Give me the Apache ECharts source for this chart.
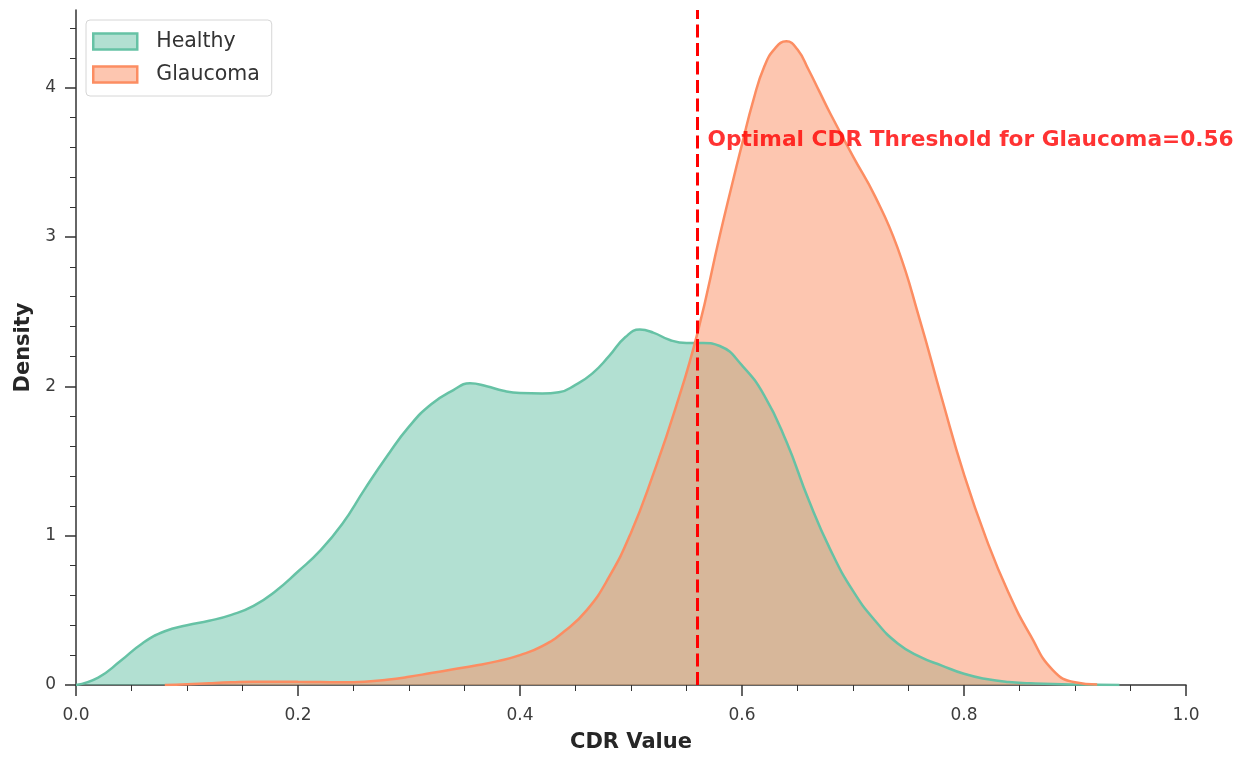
<!DOCTYPE html>
<html>
<head>
<meta charset="utf-8">
<script src="https://cdn.jsdelivr.net/npm/echarts@6/dist/echarts.min.js"></script>
<style>
  html, body { margin: 0; padding: 0; background: #ffffff; }
  #chart { width: 1247px; height: 757px; }
</style>
</head>
<body>
<div id="chart"></div>
<script>
// ---- data ----
const healthyCdr = [0.00,0.02,0.04,0.06,0.08,0.10,0.12,0.14,0.16,0.18,0.20,0.22,0.24,0.26,0.28,0.30,0.32,0.34,0.355,0.37,0.385,0.40,0.42,0.435,0.45,0.465,0.48,0.495,0.508,0.52,0.535,0.55,0.565,0.58,0.60,0.62,0.64,0.66,0.68,0.70,0.72,0.74,0.76,0.78,0.80,0.82,0.84,0.86,0.88,0.90,0.94];
const healthyDensity = [0.00,0.05,0.16,0.28,0.36,0.40,0.43,0.47,0.53,0.63,0.76,0.90,1.08,1.31,1.53,1.73,1.88,1.975,2.02,2.00,1.97,1.955,1.952,1.96,2.01,2.085,2.20,2.33,2.38,2.36,2.31,2.29,2.29,2.27,2.14,1.94,1.63,1.24,0.90,0.63,0.43,0.28,0.19,0.13,0.075,0.04,0.02,0.012,0.006,0.003,0.0];
const glaucomaCdr = [0.08,0.10,0.12,0.14,0.16,0.18,0.20,0.22,0.24,0.26,0.28,0.30,0.32,0.34,0.36,0.38,0.40,0.42,0.44,0.46,0.48,0.50,0.52,0.54,0.56,0.58,0.59,0.60,0.61,0.62,0.63,0.64,0.65,0.66,0.67,0.68,0.70,0.72,0.74,0.76,0.78,0.80,0.82,0.84,0.86,0.88,0.90,0.92];
const glaucomaDensity = [0.0,0.005,0.012,0.018,0.022,0.022,0.021,0.02,0.018,0.022,0.035,0.055,0.08,0.105,0.13,0.16,0.20,0.26,0.36,0.50,0.72,1.02,1.41,1.85,2.36,3.01,3.32,3.62,3.91,4.14,4.265,4.31,4.255,4.12,3.97,3.82,3.54,3.27,2.93,2.45,1.92,1.41,0.98,0.62,0.33,0.10,0.018,0.003];
const seriesNames = ['Healthy', 'Glaucoma'];
const xTickValues = [0.0, 0.2, 0.4, 0.6, 0.8, 1.0];
const yTickValues = [0, 1, 2, 3, 4];
const threshold = 0.56;
const annotationPoint = [0.569, 3.645];
const annotationText = 'Optimal CDR Threshold for Glaucoma=0.56';

// ---- build ----
function pairs(xs, ys) {
  return xs.map((x, i) => [x, ys[i]]);
}
const yMax = 4.52;
const yMinorTicks = [];
for (let v = 0.2; v < yMax; v += 0.2) {
  const r = Math.round(v * 10) / 10;
  if (Math.abs(r - Math.round(r)) > 1e-6) yMinorTicks.push(r);
}
const font = 'DejaVu Sans';
const axisColor = '#333333';

const chart = echarts.init(document.getElementById('chart'), null, { renderer: 'canvas' });
chart.setOption({
  animation: false,
  backgroundColor: '#ffffff',
  grid: { left: 76, right: 61, top: 10, bottom: 72, containLabel: false, outerBoundsMode: 'none' },
  legend: {
    orient: 'vertical',
    left: 86, top: 20,
    padding: [11, 12, 11, 6],
    itemGap: 12,
    itemWidth: 44, itemHeight: 16,
    borderColor: '#d6d6d6', borderWidth: 1, borderRadius: 4,
    backgroundColor: 'rgba(255,255,255,0.8)',
    textStyle: { fontFamily: font, fontSize: 20.5, color: '#333333', padding: [0, 0, 0, 14] },
    data: [
      { name: seriesNames[0], icon: 'rect', itemStyle: { color: 'rgba(102,194,165,0.5)', borderColor: '#66c2a5', borderWidth: 2.5, opacity: 1 } },
      { name: seriesNames[1], icon: 'rect', itemStyle: { color: 'rgba(252,141,98,0.5)', borderColor: '#fc8d62', borderWidth: 2.5, opacity: 1 } }
    ]
  },
  xAxis: {
    type: 'value', min: 0, max: 1, interval: 0.2,
    name: 'CDR Value', nameLocation: 'middle', nameGap: 47,
    nameTextStyle: { fontFamily: font, fontSize: 21, fontWeight: 'bold', color: '#262626' },
    axisLine: { show: true, onZero: false, lineStyle: { color: axisColor, width: 1.5 } },
    axisTick: { show: true, length: 11, lineStyle: { color: axisColor, width: 1.5 }, customValues: xTickValues },
    minorTick: { show: true, splitNumber: 4, length: 6, lineStyle: { color: axisColor, width: 1 } },
    axisLabel: { fontFamily: font, fontSize: 17, color: '#3c3c3c', margin: 22, customValues: xTickValues, formatter: v => v.toFixed(1) },
    splitLine: { show: false }
  },
  yAxis: [
    {
      type: 'value', min: 0, max: yMax, interval: 1,
      name: 'Density', nameLocation: 'middle', nameGap: 41, nameRotate: 90,
      nameTextStyle: { fontFamily: font, fontSize: 21, fontWeight: 'bold', color: '#262626' },
      axisLine: { show: true, lineStyle: { color: axisColor, width: 1.5 } },
      axisTick: { show: true, length: 11, lineStyle: { color: axisColor, width: 1.5 }, customValues: yTickValues },
      axisLabel: { fontFamily: font, fontSize: 17, color: '#3c3c3c', margin: 20, customValues: yTickValues, formatter: v => String(v) },
      splitLine: { show: false }
    },
    {
      type: 'value', min: 0, max: yMax, position: 'left',
      axisLine: { show: false },
      axisTick: { show: true, length: 6, lineStyle: { color: axisColor, width: 1 }, customValues: yMinorTicks },
      axisLabel: { show: false },
      splitLine: { show: false }
    }
  ],
  series: [
    {
      name: seriesNames[0], type: 'line', smooth: 0.5, showSymbol: false, symbol: 'none',
      data: pairs(healthyCdr, healthyDensity),
      lineStyle: { color: '#66c2a5', width: 2.5 },
      itemStyle: { color: '#66c2a5' },
      areaStyle: { color: '#66c2a5', opacity: 0.5, origin: 'start' },
      z: 2
    },
    {
      name: seriesNames[1], type: 'line', smooth: 0.5, showSymbol: false, symbol: 'none',
      data: pairs(glaucomaCdr, glaucomaDensity),
      lineStyle: { color: '#fc8d62', width: 2.5 },
      itemStyle: { color: '#fc8d62' },
      areaStyle: { color: '#fc8d62', opacity: 0.5, origin: 'start' },
      z: 2,
      markLine: {
        silent: true, symbol: ['none', 'none'], animation: false, z: 10,
        label: { show: false },
        emphasis: { disabled: true },
        lineStyle: { color: '#ff0000', width: 3, type: [13, 5.5], opacity: 1 },
        data: [{ xAxis: threshold }]
      }
    },
    {
      name: 'annotation', type: 'scatter', symbolSize: 0, silent: true, z: 5,
      data: [annotationPoint],
      label: {
        show: true, position: 'right', distance: 0,
        formatter: annotationText,
        fontFamily: font, fontSize: 21.7, fontWeight: 'bold', color: '#ff0000'
      }
    }
  ]
});
</script>
</body>
</html>
